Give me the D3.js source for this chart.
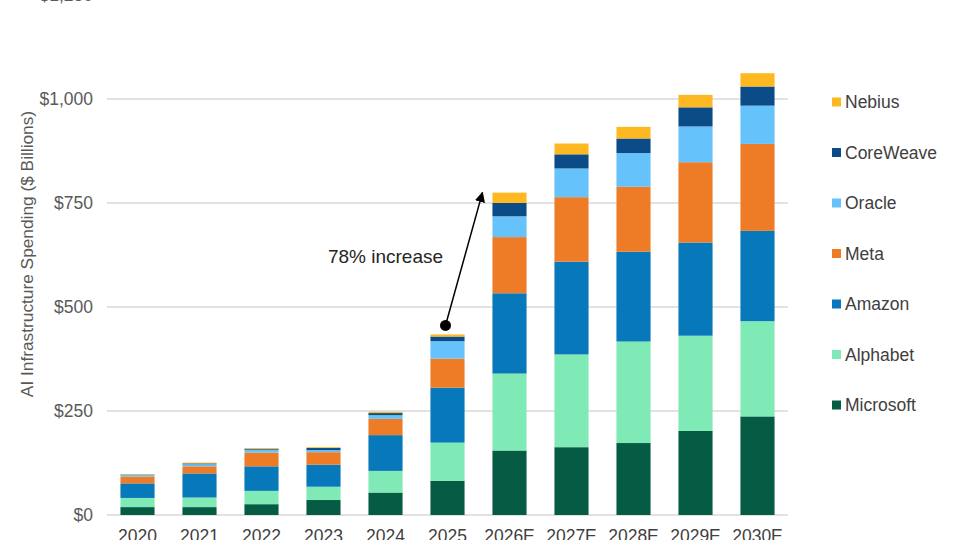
<html>
<head>
  <meta charset="utf-8">
  <title>AI Infrastructure Spending</title>
</head>
<style>
  body {
    margin: 0;
    background: #fff;
    overflow: hidden;
  }

  text {
    font-family: "Liberation Sans", Arial, sans-serif;
  }

  .grid line {
    stroke: #d9d9d9;
    stroke-width: 1.5;
  }

  .tick-label {
    fill: #595959;
    font-size: 17.5px;
  }

  .legend text {
    fill: #404040;
    font-size: 17.5px;
  }
</style>

<body>
  <div id="chart"></div>
</body>

<script src="https://cdn.jsdelivr.net/npm/d3@7"></script>
<script>

  // data ($ billions)
  let years = ["2020", "2021", "2022", "2023", "2024", "2025", "2026E", "2027E", "2028E", "2029E", "2030E"];
  let companies = ["Microsoft", "Alphabet", "Amazon", "Meta", "Oracle", "CoreWeave", "Nebius"];

  let microsoft = [19, 19, 26, 36, 54, 82, 155, 163, 173, 202, 237];
  let alphabet = [22, 23, 32, 32, 52, 92, 185, 223, 244, 229, 229];
  let amazon = [35, 58, 59, 53, 86, 132, 193, 223, 216, 224, 217];
  let meta = [16, 17, 33, 30, 39, 70, 135, 155, 156, 193, 209];
  let oracle = [4, 5, 7, 5, 9, 42, 50, 69, 81, 86, 92];
  let coreweave = [1, 2, 2, 5, 5, 11, 32, 34, 35, 46, 46];
  let nebius = [1.5, 2, 2, 2, 3, 5, 25, 26, 28, 30, 32];

  let yTicks = [0, 250, 500, 750, 1000, 1250];
  let annotation = "78% increase";
  let yTitle = "AI Infrastructure Spending ($ Billions)";

  let colors = ["#065b44", "#80eab6", "#0778ba", "#ee7b26", "#66c2fa", "#0b4c88", "#fdb822"];

  let width = 960, height = 540;

  let rows = years.map((yr, i) => ({
    year: yr,
    Microsoft: microsoft[i],
    Alphabet: alphabet[i],
    Amazon: amazon[i],
    Meta: meta[i],
    Oracle: oracle[i],
    CoreWeave: coreweave[i],
    Nebius: nebius[i]
  }));

  let stacked = d3.stack().keys(companies)(rows);

  let x = d3.scaleBand()
    .domain(years)
    .range([106.5, 788.5])
    .paddingInner(0.45)
    .paddingOuter(0.225);

  let y = d3.scaleLinear()
    .domain([0, 1250])
    .range([515, -5]);

  let color = d3.scaleOrdinal()
    .domain(companies)
    .range(colors);

  let svg = d3.select("#chart").append("svg")
    .attr("width", width)
    .attr("height", height);

  // gridlines
  svg.append("g")
    .attr("class", "grid")
    .selectAll("line")
    .data(yTicks)
    .join("line")
    .attr("x1", 107)
    .attr("x2", 788)
    .attr("y1", d => y(d))
    .attr("y2", d => y(d));

  // y tick labels (top one is cut by the frame, like the source)
  svg.append("g")
    .selectAll("text")
    .data(yTicks)
    .join("text")
    .attr("class", "tick-label")
    .attr("x", 93)
    .attr("y", d => y(d))
    .attr("dy", "0.35em")
    .attr("text-anchor", "end")
    .text(d => "$" + d3.format(",")(d));

  // x labels
  svg.append("g")
    .selectAll("text")
    .data(years)
    .join("text")
    .attr("class", "tick-label")
    .style("fill", "#404040")
    .attr("x", d => x(d) + x.bandwidth() / 2)
    .attr("y", 542)
    .attr("text-anchor", "middle")
    .text(d => d);

  // y title
  svg.append("text")
    .attr("transform", "translate(27,254) rotate(-90)")
    .attr("text-anchor", "middle")
    .attr("dy", "0.35em")
    .style("font-size", "17.3px")
    .style("fill", "#595959")
    .text(yTitle);

  // bars
  svg.append("g")
    .selectAll("g")
    .data(stacked)
    .join("g")
    .attr("fill", d => color(d.key))
    .selectAll("rect")
    .data(d => d)
    .join("rect")
    .attr("x", d => x(d.data.year))
    .attr("width", x.bandwidth())
    .attr("y", d => y(d[1]))
    .attr("height", d => y(d[0]) - y(d[1]));

  // annotation: 2025 -> 2026E
  let topLayer = stacked[stacked.length - 1];
  let t2025 = topLayer[years.indexOf("2025")][1];
  let t2026 = topLayer[years.indexOf("2026E")][1];

  svg.append("defs").append("marker")
    .attr("id", "arrow")
    .attr("viewBox", "0 0 10 10")
    .attr("refX", 9)
    .attr("refY", 5)
    .attr("markerWidth", 7)
    .attr("markerHeight", 7)
    .attr("orient", "auto")
    .append("path")
    .attr("d", "M0,0 L10,5 L0,10 z")
    .attr("fill", "#000");

  let x0 = x("2025") + x.bandwidth() / 2 - 2, y0 = y(t2025) - 9;
  let x1 = x("2026E") - 10, y1 = y(t2026);

  svg.append("line")
    .attr("x1", x0)
    .attr("y1", y0)
    .attr("x2", x1)
    .attr("y2", y1)
    .attr("stroke", "#000")
    .attr("stroke-width", 1.5)
    .attr("marker-end", "url(#arrow)");

  svg.append("circle")
    .attr("cx", x0)
    .attr("cy", y0)
    .attr("r", 5.5)
    .attr("fill", "#000");

  svg.append("text")
    .attr("x", 385.5)
    .attr("y", 262.5)
    .attr("text-anchor", "middle")
    .style("font-size", "19px")
    .style("fill", "#262626")
    .text(annotation);

  // legend, top entry is the top of the stack
  let legend = svg.append("g")
    .attr("class", "legend")
    .selectAll("g")
    .data(companies.slice().reverse())
    .join("g")
    .attr("transform", (d, i) => `translate(832,${102 + i * 50.5})`);

  legend.append("rect")
    .attr("x", 0)
    .attr("y", -4.5)
    .attr("width", 9)
    .attr("height", 9)
    .attr("fill", d => color(d));

  legend.append("text")
    .attr("x", 13)
    .attr("dy", "0.36em")
    .text(d => d);

</script>

</html>
